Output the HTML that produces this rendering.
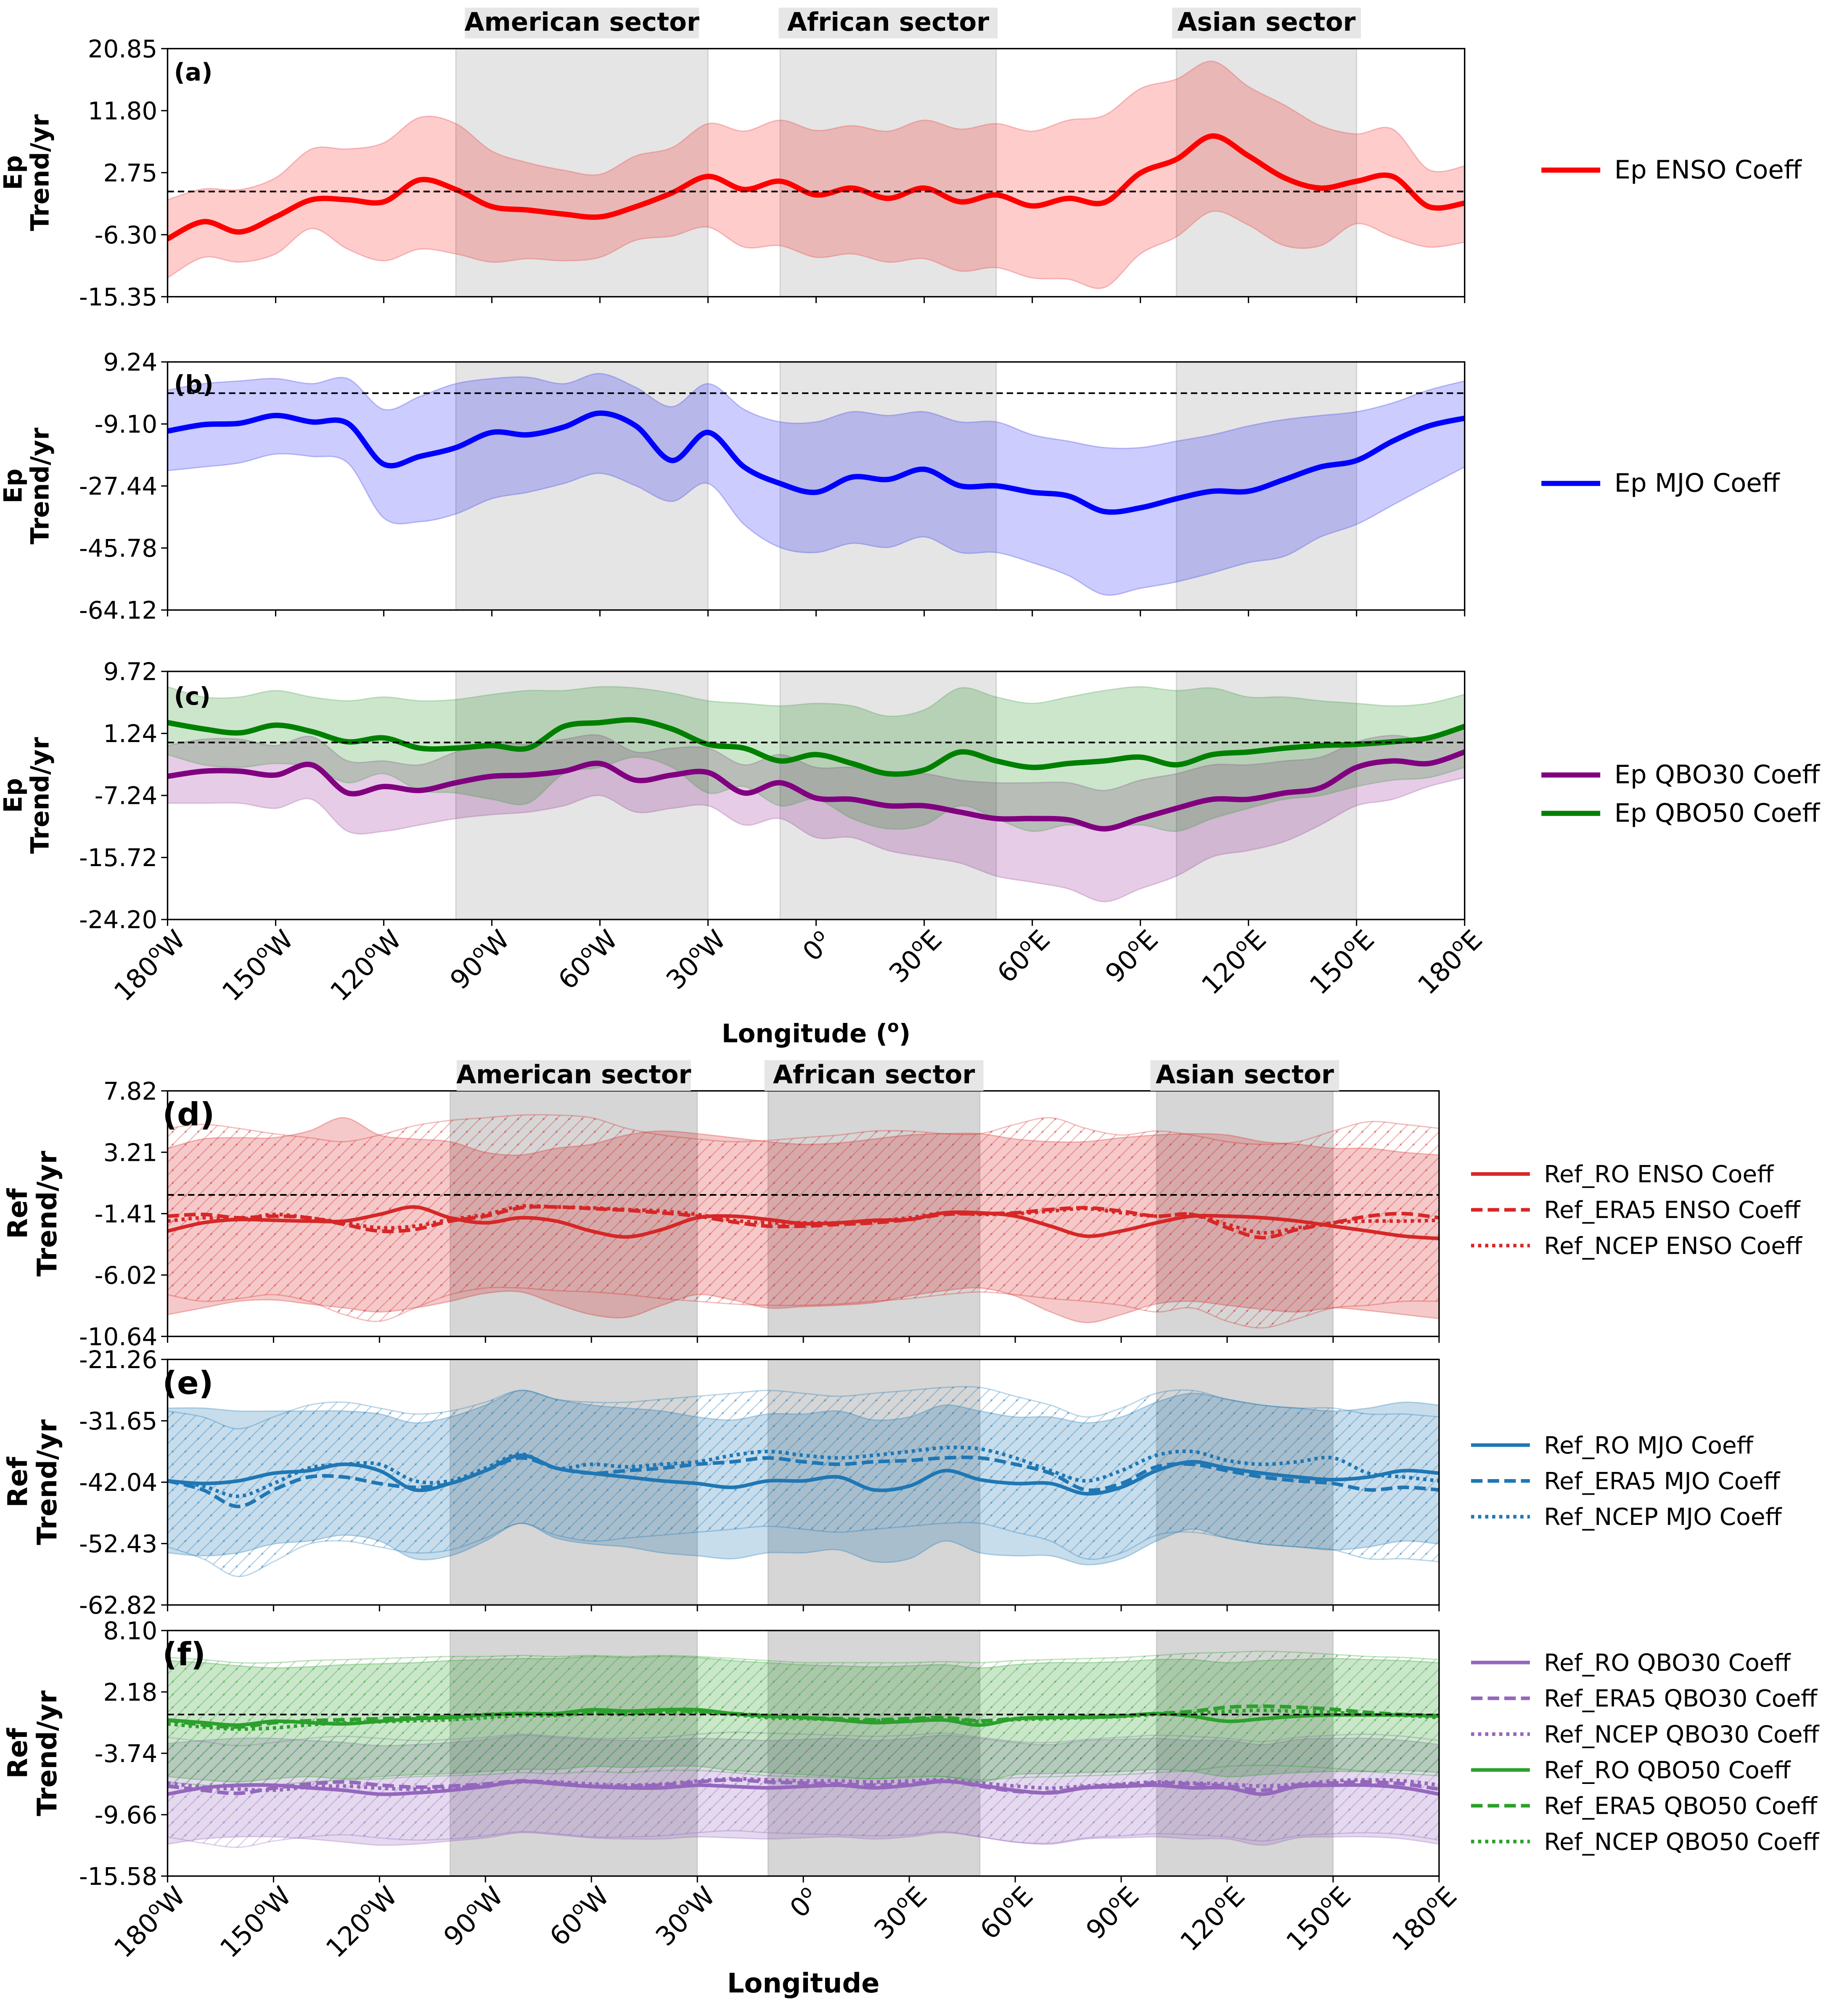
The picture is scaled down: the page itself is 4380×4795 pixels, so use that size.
<!DOCTYPE html>
<html><head><meta charset="utf-8"><style>
html,body{margin:0;padding:0;background:#fff;}
svg{display:block;font-family:"DejaVu Sans","Liberation Sans",sans-serif;}
</style></head>
<body>
<svg id="chart" width="4380" height="4795" viewBox="0 0 1440 1576.4" xmlns="http://www.w3.org/2000/svg">
<defs>
<pattern id="hatch-red" patternUnits="userSpaceOnUse" width="10" height="10"><path d="M0,10 L10,0 M-2,2 L2,-2 M8,12 L12,8" stroke="rgba(214,39,40,0.35)" stroke-width="0.8"/><circle cx="5" cy="5" r="0.8" fill="rgba(214,39,40,0.45)"/></pattern>
<pattern id="hatch-blue" patternUnits="userSpaceOnUse" width="10" height="10"><path d="M0,10 L10,0 M-2,2 L2,-2 M8,12 L12,8" stroke="rgba(31,119,180,0.35)" stroke-width="0.8"/><circle cx="5" cy="5" r="0.8" fill="rgba(31,119,180,0.45)"/></pattern>
<pattern id="hatch-purple" patternUnits="userSpaceOnUse" width="10" height="10"><path d="M0,10 L10,0 M-2,2 L2,-2 M8,12 L12,8" stroke="rgba(148,103,189,0.35)" stroke-width="0.8"/><circle cx="5" cy="5" r="0.8" fill="rgba(148,103,189,0.45)"/></pattern>
<pattern id="hatch-green" patternUnits="userSpaceOnUse" width="10" height="10"><path d="M0,10 L10,0 M-2,2 L2,-2 M8,12 L12,8" stroke="rgba(44,160,44,0.35)" stroke-width="0.8"/><circle cx="5" cy="5" r="0.8" fill="rgba(44,160,44,0.45)"/></pattern>
</defs>
</svg>
<script>
// ---------- data ----------
const lons = [-180,-170,-160,-150,-140,-130,-120,-110,-100,-90,-80,-70,-60,-50,-40,-30,-20,-10,0,10,20,30,40,50,60,70,80,90,100,110,120,130,140,150,160,170,180];
const xTicks = [-180,-150,-120,-90,-60,-30,0,30,60,90,120,150,180];
const xTickNums = ["180","150","120","90","60","30","0","30","60","90","120","150","180"];
const xTickHem = ["W","W","W","W","W","W","","E","E","E","E","E","E"];
const sectorNames = ["American sector","African sector","Asian sector"];
const sectorStart = [-100,-10,100];
const sectorEnd = [-30,50,150];

const aTicks = ["20.85","11.80","2.75","-6.30","-15.35"];
const aMean = [-6.9,-4.4,-5.9,-3.7,-1.2,-1.2,-1.5,1.7,0.3,-2.2,-2.7,-3.3,-3.7,-2.2,-0.2,2.2,0.3,1.5,-0.5,0.5,-1.0,0.5,-1.5,-0.5,-2.1,-1.0,-1.6,2.7,4.7,8.1,5.2,2.0,0.5,1.5,2.2,-2.2,-1.7];
const aUpper = [-1.2,0.37,0.26,2.0,6.2,6.2,7.1,10.8,9.9,5.9,4.2,3.1,2.5,5.2,6.4,9.9,8.8,10.4,8.9,9.6,8.8,10.4,9.1,9.9,8.8,10.4,11.1,15.0,16.4,19.0,15.3,12.6,9.6,8.4,9.1,3.2,3.7];
const aLower = [-12.6,-9.6,-10.3,-9.1,-5.4,-8.4,-10.1,-8.4,-9.1,-10.3,-9.8,-10.1,-9.6,-7.1,-6.5,-5.2,-8.1,-7.9,-9.6,-9.1,-10.3,-9.8,-11.6,-11.1,-12.6,-12.8,-14.0,-9.1,-6.6,-2.9,-4.9,-7.9,-7.9,-4.7,-6.6,-8.1,-7.4];

const bTicks = ["9.24","-9.10","-27.44","-45.78","-64.12"];
const bMean = [-11.2,-9.3,-8.9,-6.6,-8.5,-8.9,-21.0,-18.7,-16.1,-11.6,-12.3,-10.0,-5.9,-9.7,-19.9,-11.6,-21.8,-26.7,-29.3,-24.8,-25.5,-22.5,-27.4,-27.4,-29.3,-30.4,-35.0,-33.9,-31.2,-29.0,-29.0,-25.5,-21.8,-19.9,-14.2,-9.7,-7.4];
const bUpper = [0.9,2.8,3.6,4.3,2.8,4.3,-4.8,-1.0,2.8,4.3,4.7,2.8,5.8,1.7,-4.0,2.8,-4.8,-8.5,-8.5,-5.5,-6.6,-5.5,-8.5,-8.5,-12.3,-14.2,-16.1,-16.1,-14.2,-12.3,-9.7,-7.8,-6.6,-5.5,-2.9,0.9,3.6];
const bLower = [-22.9,-21.8,-20.6,-18.0,-18.7,-20.6,-36.9,-38.0,-35.7,-31.2,-29.3,-26.7,-23.7,-27.4,-32.0,-26.7,-38.8,-45.6,-47.1,-44.4,-45.6,-42.5,-47.1,-47.1,-50.1,-53.9,-59.6,-57.7,-55.8,-53.1,-50.1,-48.2,-42.5,-38.8,-33.1,-27.4,-21.8];

const cTicks = ["9.72","1.24","-7.24","-15.72","-24.20"];
const cGreenMean = [2.72,1.85,1.32,2.37,1.5,0.1,0.63,-0.77,-0.77,-0.42,-0.77,2.2,2.72,3.07,1.85,-0.25,-0.77,-2.52,-1.65,-2.87,-4.27,-3.75,-1.3,-2.52,-3.4,-2.87,-2.52,-2.0,-3.05,-1.65,-1.3,-0.77,-0.42,-0.25,0.1,0.63,2.2];
const cGreenUpper = [7.62,6.22,6.22,7.1,6.22,5.7,6.22,5.7,5.87,6.57,7.1,7.1,7.62,7.45,6.75,5.7,5.35,5.0,5.35,5.0,3.6,4.47,7.45,6.22,5.35,6.22,7.1,7.62,7.1,7.45,6.22,6.22,5.7,5.35,5.0,5.35,6.57];
const cGreenLower = [-1.65,-3.05,-3.4,-2.87,-3.4,-5.5,-4.27,-6.55,-6.9,-7.77,-8.3,-4.27,-3.4,-2.0,-3.4,-6.9,-6.02,-8.65,-7.77,-10.4,-11.8,-11.27,-8.65,-10.4,-12.14,-11.27,-11.8,-11.27,-12.14,-10.4,-9.0,-7.77,-7.25,-6.02,-5.15,-4.8,-3.4];
const cPurpleMean = [-4.62,-3.92,-3.92,-4.45,-3.05,-6.9,-6.02,-6.55,-5.5,-4.62,-4.45,-3.92,-2.87,-5.15,-4.45,-4.1,-6.9,-5.5,-7.6,-7.77,-8.65,-8.65,-9.52,-10.4,-10.4,-10.57,-11.8,-10.4,-9.0,-7.77,-7.77,-6.9,-6.2,-3.4,-2.52,-2.87,-1.3];
const cPurpleUpper = [-0.42,0.45,0.45,-0.42,0.8,-2.52,-2.52,-3.05,-1.3,0.1,-0.25,0.45,0.97,-1.3,-0.77,-0.77,-3.05,-1.65,-3.4,-3.4,-4.27,-4.27,-5.15,-5.5,-5.5,-5.5,-6.55,-5.15,-4.27,-3.05,-3.05,-2.52,-2.0,0.1,0.97,0.45,2.55];
const cPurpleLower = [-8.3,-8.3,-8.3,-9.0,-7.77,-12.14,-12.14,-11.27,-10.4,-9.87,-9.52,-8.65,-7.25,-9.52,-9.0,-8.65,-11.27,-10.4,-13.0,-13.0,-14.77,-15.64,-16.5,-18.26,-19.1,-20.0,-21.76,-20.0,-18.26,-15.64,-14.77,-13.54,-11.27,-8.65,-7.77,-6.02,-4.8];

const dTicks = ["7.82","3.21","-1.41","-6.02","-10.64"];
const dRO = [-2.72,-2.1,-1.85,-1.91,-1.97,-1.97,-1.47,-0.91,-1.72,-2.1,-1.72,-1.97,-2.72,-3.16,-2.6,-1.72,-1.6,-1.85,-2.16,-2.1,-1.91,-1.85,-1.35,-1.35,-1.6,-2.35,-3.1,-2.72,-2.1,-1.6,-1.6,-1.72,-1.97,-2.35,-2.72,-3.1,-3.28];
const dERA5 = [-1.6,-1.47,-1.72,-1.6,-1.72,-2.22,-2.72,-2.6,-1.97,-1.6,-0.97,-0.91,-1.03,-1.16,-1.35,-1.6,-2.03,-2.35,-2.35,-2.22,-2.1,-1.85,-1.47,-1.41,-1.35,-1.1,-0.97,-1.22,-1.6,-1.47,-2.47,-3.22,-2.6,-2.1,-1.6,-1.41,-1.72];
const dNCEP = [-1.97,-1.72,-1.85,-1.47,-1.72,-2.1,-2.47,-2.35,-1.85,-1.47,-0.85,-0.91,-0.97,-1.1,-1.22,-1.47,-1.91,-2.1,-2.1,-2.1,-1.97,-1.72,-1.35,-1.47,-1.41,-1.22,-1.03,-1.35,-1.6,-1.47,-2.22,-2.85,-2.47,-2.1,-1.97,-1.97,-1.91];
const dROUpper = [3.5,4.2,4.3,4.3,4.8,5.8,4.5,4.2,4.0,3.2,3.0,3.5,3.8,4.5,4.8,4.6,4.3,4.0,3.8,3.9,4.2,4.5,4.6,4.6,4.2,4.0,4.0,4.3,4.5,4.6,4.5,4.0,3.8,3.5,3.5,3.2,3.0];
const dROLower = [-9.0,-8.5,-8.0,-7.9,-8.2,-8.5,-8.8,-8.5,-8.0,-7.4,-7.3,-8.2,-9.0,-9.2,-8.3,-7.5,-7.9,-8.5,-8.4,-8.3,-8.1,-7.6,-7.2,-7.0,-7.6,-8.8,-9.6,-9.0,-8.2,-8.0,-8.3,-8.6,-8.8,-8.5,-8.7,-9.0,-9.3];
const dHatchUpper = [5.0,5.3,5.0,4.6,4.3,4.0,4.5,5.2,5.6,5.8,6.0,6.0,5.8,5.0,4.5,4.2,4.0,4.1,4.3,4.5,4.8,4.8,4.6,4.6,5.3,5.8,5.0,4.5,4.8,4.5,4.0,3.8,4.0,4.8,5.5,5.3,5.0];
const dHatchLower = [-7.5,-8.0,-7.8,-7.5,-8.0,-9.0,-9.5,-8.5,-7.5,-7.0,-7.0,-7.2,-7.3,-7.5,-7.8,-8.0,-8.2,-8.3,-8.3,-8.2,-8.0,-7.8,-7.5,-7.3,-7.5,-7.8,-8.0,-8.3,-8.8,-8.5,-9.5,-10.0,-9.3,-8.5,-8.3,-8.0,-8.0];

const eTicks = ["-21.26","-31.65","-42.04","-52.43","-62.82"];
const eRO = [-41.82,-42.26,-41.82,-40.52,-40.09,-39.01,-40.09,-43.34,-42.26,-40.09,-37.49,-39.66,-40.52,-41.17,-41.82,-42.26,-42.91,-41.82,-41.82,-41.17,-43.34,-42.69,-40.09,-41.61,-42.26,-42.26,-43.99,-42.91,-40.09,-38.58,-39.66,-40.52,-41.17,-41.61,-41.17,-40.09,-40.52];
const eERA5 = [-41.82,-43.34,-46.15,-43.34,-41.17,-41.17,-42.26,-42.91,-42.26,-40.09,-37.93,-39.66,-40.52,-40.09,-39.66,-39.01,-38.58,-37.93,-38.58,-39.01,-38.58,-38.36,-37.93,-37.93,-39.01,-40.52,-43.34,-42.26,-39.44,-39.01,-40.09,-41.17,-41.82,-42.26,-43.34,-42.91,-43.34];
const eNCEP = [-41.82,-42.69,-44.42,-42.26,-39.66,-39.01,-39.01,-41.82,-41.82,-39.66,-37.28,-39.66,-39.01,-39.44,-39.01,-38.58,-37.49,-36.84,-37.49,-37.93,-37.49,-36.84,-36.19,-36.41,-37.93,-40.09,-41.82,-40.09,-37.49,-36.84,-38.36,-39.01,-38.58,-37.93,-40.52,-41.17,-41.82];
const eROUpper = [-29.5,-29.5,-30,-30,-30,-30,-30.5,-32,-31,-29,-26.5,-28,-29,-29.5,-30,-31,-31.5,-30.5,-30.5,-30,-31.5,-31,-29,-30,-31,-31,-32,-31,-28.5,-27,-28,-29,-29.5,-30,-29.5,-28.5,-29];
const eROLower = [-54,-54.5,-54,-52.5,-52,-51,-52,-55,-54.5,-52,-49,-51.5,-52.5,-53,-54,-54.5,-55,-54,-54,-53.5,-55.5,-55,-52,-54,-54.5,-54.5,-56,-55,-52,-50,-51.5,-52.5,-53,-53.5,-53,-52,-52.5];
const eHatchUpper = [-30,-31,-33,-31,-29,-28.5,-29.5,-30.5,-30,-28.5,-26.5,-28,-28.5,-28.5,-28,-27.5,-27,-26.5,-27,-27.5,-27,-26.5,-26,-26,-27.5,-29,-31,-29.5,-27,-26.5,-28,-29,-29.5,-29.5,-30.5,-30.5,-31];
const eHatchLower = [-53,-55,-58,-55.5,-52.5,-52,-53,-54,-53.5,-51.5,-49,-51,-52,-51.5,-51,-50.5,-50,-49.5,-50,-50.5,-50,-49.5,-49,-49,-50.5,-52,-55,-54,-51,-50.5,-51.5,-52.5,-53,-53.5,-55,-55,-55.5];

const fTicks = ["8.10","2.18","-3.74","-9.66","-15.58"];
const fGreenRO = [-0.53,-0.78,-1.02,-0.65,-0.78,-0.9,-0.65,-0.41,-0.28,-0.04,0.09,0.09,0.46,0.33,0.46,0.46,0.09,-0.16,-0.28,-0.53,-0.78,-0.65,-0.53,-1.02,-0.41,-0.28,-0.28,-0.16,0.09,-0.16,-0.65,-0.41,-0.16,-0.04,-0.04,-0.04,-0.16];
const fGreenERA5 = [-0.53,-1.0,-1.2,-0.8,-0.6,-0.5,-0.4,-0.3,-0.2,0.0,0.1,0.0,0.2,0.1,0.3,0.3,0.1,-0.1,-0.3,-0.4,-0.5,-0.4,-0.3,-0.6,-0.4,-0.3,-0.2,-0.1,0.1,0.3,0.7,0.8,0.7,0.5,0.2,0.0,-0.1];
const fGreenNCEP = [-0.9,-1.2,-1.4,-1.3,-1.0,-0.8,-0.7,-0.6,-0.5,-0.3,-0.1,-0.1,0.1,0.0,0.2,0.2,0.0,-0.3,-0.4,-0.5,-0.6,-0.5,-0.4,-0.7,-0.5,-0.4,-0.3,-0.2,0.0,0.1,0.3,0.4,0.3,0.2,0.0,-0.1,-0.3];
const fGreenUpper = [5.2,5.0,4.7,4.5,4.6,4.8,4.9,5.0,5.2,5.3,5.4,5.4,5.6,5.5,5.6,5.5,5.2,5.0,4.8,4.7,4.6,4.7,4.8,4.5,4.8,5.0,5.0,5.1,5.3,5.3,5.0,5.2,5.3,5.4,5.3,5.2,5.0];
const fGreenLower = [-6.0,-6.3,-6.5,-6.2,-6.0,-6.2,-6.0,-5.8,-5.7,-5.5,-5.3,-5.3,-5.0,-5.1,-5.0,-5.0,-5.4,-5.6,-5.8,-6.0,-6.2,-6.0,-6.0,-6.5,-5.8,-5.7,-5.6,-5.5,-5.3,-5.5,-6.0,-5.8,-5.6,-5.5,-5.5,-5.4,-5.6];
const fGreenHatchUpper = [5.5,5.3,5.0,5.0,5.2,5.3,5.4,5.5,5.6,5.6,5.7,5.6,5.7,5.6,5.7,5.6,5.4,5.2,5.0,5.0,5.0,5.0,5.1,5.0,5.2,5.3,5.4,5.5,5.7,5.9,6.0,6.1,6.0,5.8,5.6,5.5,5.3];
const fGreenHatchLower = [-6.5,-6.8,-7.0,-6.8,-6.5,-6.3,-6.2,-6.0,-5.9,-5.8,-5.6,-5.7,-5.5,-5.6,-5.4,-5.4,-5.6,-5.9,-6.0,-6.1,-6.2,-6.1,-6.0,-6.3,-6.1,-6.0,-5.9,-5.8,-5.6,-5.4,-5.0,-4.9,-5.0,-5.2,-5.5,-5.7,-5.9];
const fPurpleRO = [-7.68,-7.07,-6.82,-6.82,-7.07,-7.31,-7.68,-7.56,-7.31,-6.94,-6.45,-6.7,-6.94,-7.07,-7.07,-6.82,-6.94,-7.07,-6.94,-6.82,-7.07,-6.82,-6.45,-6.82,-7.31,-7.56,-7.07,-6.94,-6.82,-7.07,-7.07,-7.68,-6.94,-6.82,-6.82,-7.07,-7.68];
const fPurpleERA5 = [-6.9,-7.3,-7.6,-7.1,-6.7,-6.5,-6.8,-7.0,-6.9,-6.7,-6.4,-6.6,-6.9,-6.9,-6.8,-6.5,-6.3,-6.5,-6.6,-6.7,-6.8,-6.7,-6.4,-6.9,-7.4,-7.5,-7.0,-6.8,-6.6,-6.7,-6.9,-7.3,-6.8,-6.6,-6.5,-6.7,-7.2];
const fPurpleNCEP = [-6.6,-7.0,-7.2,-7.3,-7.0,-6.9,-7.1,-7.2,-7.1,-6.8,-6.5,-6.5,-6.7,-6.8,-6.7,-6.4,-6.2,-6.3,-6.4,-6.4,-6.5,-6.4,-6.3,-6.6,-6.9,-7.1,-6.9,-6.7,-6.5,-6.6,-6.7,-6.9,-6.7,-6.4,-6.3,-6.4,-6.8];
const fPurpleUpper = [-2.8,-2.5,-2.3,-2.3,-2.5,-2.7,-3.0,-2.9,-2.7,-2.4,-2.0,-2.2,-2.4,-2.5,-2.5,-2.3,-2.4,-2.5,-2.4,-2.3,-2.5,-2.3,-2.0,-2.3,-2.7,-2.9,-2.5,-2.4,-2.3,-2.5,-2.5,-2.9,-2.4,-2.3,-2.3,-2.5,-2.9];
const fPurpleLower = [-12.5,-12.0,-11.8,-11.8,-12.0,-12.3,-12.6,-12.5,-12.2,-11.9,-11.4,-11.6,-11.9,-12.0,-12.0,-11.8,-11.9,-12.0,-11.9,-11.8,-12.0,-11.8,-11.4,-11.8,-12.3,-12.5,-12.0,-11.9,-11.8,-12.0,-12.0,-12.6,-11.9,-11.8,-11.8,-12.0,-12.5];
const fPurpleHatchUpper = [-2.2,-2.6,-3.0,-2.7,-2.3,-2.1,-2.3,-2.5,-2.4,-2.2,-1.9,-2.1,-2.3,-2.3,-2.2,-1.9,-1.7,-1.8,-1.9,-2.0,-2.1,-2.0,-1.8,-2.2,-2.6,-2.7,-2.4,-2.2,-2.0,-2.1,-2.3,-2.6,-2.2,-2.0,-1.9,-2.1,-2.5];
const fPurpleHatchLower = [-11.8,-12.4,-12.8,-12.2,-11.8,-11.6,-11.9,-12.1,-12.0,-11.7,-11.3,-11.5,-11.8,-11.8,-11.7,-11.4,-11.2,-11.4,-11.5,-11.6,-11.7,-11.6,-11.3,-11.8,-12.3,-12.4,-11.9,-11.7,-11.5,-11.6,-11.8,-12.2,-11.7,-11.5,-11.4,-11.6,-12.1];

// ---------- drawing ----------
const svg = document.getElementById('chart');
const NS = 'http://www.w3.org/2000/svg';
function mk(tag, attrs, parent){ const e=document.createElementNS(NS,tag); for(const k in attrs) e.setAttribute(k,attrs[k]); (parent||svg).appendChild(e); return e; }

function smoothPath(pts){
  let d='M'+pts[0][0].toFixed(2)+','+pts[0][1].toFixed(2);
  for(let i=0;i<pts.length-1;i++){
    const p0=pts[Math.max(0,i-1)],p1=pts[i],p2=pts[i+1],p3=pts[Math.min(pts.length-1,i+2)];
    const c1x=p1[0]+(p2[0]-p0[0])/6,c1y=p1[1]+(p2[1]-p0[1])/6;
    const c2x=p2[0]-(p3[0]-p1[0])/6,c2y=p2[1]-(p3[1]-p1[1])/6;
    d+=' C'+c1x.toFixed(2)+','+c1y.toFixed(2)+' '+c2x.toFixed(2)+','+c2y.toFixed(2)+' '+p2[0].toFixed(2)+','+p2[1].toFixed(2);
  }
  return d;
}

function makePanel(P){
  const xs = v => P.x0 + (v+180)/360*(P.x1-P.x0);
  const ys = v => P.y1 - (v-P.vmin)/(P.vmax-P.vmin)*(P.y1-P.y0);
  const g = mk('g',{});
  
  
  const cid='clip-'+P.name;
  const cp=mk('clipPath',{id:cid},g); mk('rect',{x:P.x0,y:P.y0,width:P.x1-P.x0,height:P.y1-P.y0},cp);
  const inner=mk('g',{'clip-path':'url(#'+cid+')'},g);
  for(let i=0;i<sectorStart.length;i++){
    const r=mk('rect',{x:xs(sectorStart[i]),y:P.y0,width:xs(sectorEnd[i])-xs(sectorStart[i]),height:P.y1-P.y0,fill:P.sectorFill,stroke:'rgba(128,128,128,0.25)','stroke-width':1},inner);
    
    
  }
  P.bands.forEach(b=>{
    const up=lons.map((l,i)=>[xs(l),ys(b.upper[i])]);
    const lo=lons.map((l,i)=>[xs(l),ys(b.lower[i])]).reverse();
    let d=smoothPath(up)+' L'+smoothPath(lo).slice(1)+' Z';
    const p=mk('path',{d:d,fill:b.fill,stroke:b.stroke||'none','stroke-width':1},inner);
    
    
  });
  P.lines.forEach(s=>{
    const pts=lons.map((l,i)=>[xs(l),ys(s.data[i])]);
    const attrs={d:smoothPath(pts),fill:'none',stroke:s.color,'stroke-width':s.w,'stroke-linecap':s.dash?'butt':'round'};
    if(s.dash) attrs['stroke-dasharray']=s.dash;
    const p=mk('path',attrs,inner);
    
    
  });
  const z=mk('line',{x1:P.x0,x2:P.x1,y1:ys(0),y2:ys(0),stroke:'#000','stroke-width':1.3,'stroke-dasharray':'5,3'},inner);
  
  
  const fr=mk('rect',{x:P.x0,y:P.y0,width:P.x1-P.x0,height:P.y1-P.y0,fill:'none',stroke:'#000','stroke-width':1.1},g);
  
  
  P.ticks.forEach((t,i)=>{
    const y=P.y0+i*(P.y1-P.y0)/(P.ticks.length-1);
    mk('line',{x1:P.x0-5,x2:P.x0,y1:y,y2:y,stroke:'#000','stroke-width':1},g);
    const tx=mk('text',{x:P.x0-8,y:y+6.8,'text-anchor':'end','font-size':19,fill:'#000'},g);
    tx.textContent=t;
    
    
  });
  xTicks.forEach((v,i)=>{
    mk('line',{x1:xs(v),x2:xs(v),y1:P.y1,y2:P.y1+5,stroke:'#000','stroke-width':1},g);
    if(P.xlabels){
      const ax=xs(v)+15, ay=P.y1+17;
      const t=mk('text',{x:ax,y:ay,'text-anchor':'end','font-size':20.5,transform:'rotate(-45 '+ax+' '+ay+')'},g);
      
      
      const a=mk('tspan',{},t); a.textContent=xTickNums[i];
      const b=mk('tspan',{'font-size':14,dy:-8},t); b.textContent='o';
      const c=mk('tspan',{dy:8},t); c.textContent=xTickHem[i]||'\u200a';
    }
  });
  const pl=mk('text',{x:P.x0+P.labOff[0],y:P.y0+P.labOff[1],'font-size':P.labSize,'font-weight':'bold'},g);
  pl.textContent=P.label;
  
  
  const yc=(P.y0+P.y1)/2;
  P.ytitle.forEach((s,i)=>{
    const x=P.ytx+i*P.ytdx;
    const t=mk('text',{x:x,y:yc,'text-anchor':'middle','font-size':P.ytSize,'font-weight':'bold',transform:'rotate(-90 '+x+' '+yc+')'},g);
    t.textContent=s;
    
    
  });
  P.legend.forEach(L=>{
    const lg=mk('g',{},g);
    
    
    const at={x1:P.lgx,x2:P.lgx+P.lgw,y1:L.y,y2:L.y,stroke:L.color,'stroke-width':L.w};
    if(L.dash) at['stroke-dasharray']=L.dash;
    mk('line',at,lg);
    const t=mk('text',{x:P.lgx+P.lgw+11,y:L.y+6.5,'font-size':P.lgSize},lg);
    t.textContent=L.text;
  });
  if(P.sectorTitles){
    sectorNames.forEach((n,i)=>{
      const cx=(xs(sectorStart[i])+xs(sectorEnd[i]))/2;
      const w=n.length*11.8+6;
      mk('rect',{x:cx-w/2,y:P.stY-18,width:w,height:24,fill:'#e6e6e6'},g);
      const t=mk('text',{x:cx,y:P.stY,'text-anchor':'middle','font-size':20,'font-weight':'bold'},g);
      t.textContent=n;
      
      
    });
  }
}

const topGeo={x0:131,x1:1145,sectorFill:'#e5e5e5',labOff:[5,25],labSize:19,ytx:17,ytdx:21,ytSize:19.5,lgx:1205,lgw:46,lgSize:20};
const botGeo={x0:131,x1:1125,sectorFill:'#d6d6d6',labOff:[-4,27],labSize:25,ytx:21,ytdx:23,ytSize:21,lgx:1150,lgw:46,lgSize:18.6};

makePanel(Object.assign({},topGeo,{name:'panel-a',y0:38,y1:232,vmin:-15.35,vmax:20.85,ticks:aTicks,label:'(a)',ytitle:['Ep','Trend/yr'],sectorTitles:true,stY:24,
  bands:[{name:'enso-band',upper:aUpper,lower:aLower,fill:'rgba(255,0,0,0.2)',stroke:'rgba(230,100,100,0.4)'}],
  lines:[{name:'enso-line',data:aMean,color:'#ff0000',w:4.2}],
  legend:[{y:133,color:'#ff0000',w:4,text:'Ep ENSO Coeff'}]}));

makePanel(Object.assign({},topGeo,{name:'panel-b',y0:283,y1:477,vmin:-64.12,vmax:9.24,ticks:bTicks,label:'(b)',ytitle:['Ep','Trend/yr'],labOff:[5,24],
  bands:[{name:'mjo-band',upper:bUpper,lower:bLower,fill:'rgba(0,0,255,0.2)',stroke:'rgba(100,100,230,0.4)'}],
  lines:[{name:'mjo-line',data:bMean,color:'#0000ff',w:4.2}],
  legend:[{y:378,color:'#0000ff',w:4,text:'Ep MJO Coeff'}]}));

makePanel(Object.assign({},topGeo,{name:'panel-c',y0:525,y1:719,vmin:-24.2,vmax:9.72,ticks:cTicks,label:'(c)',ytitle:['Ep','Trend/yr'],xlabels:true,labOff:[5,26],
  bands:[{name:'qbo30-band',upper:cPurpleUpper,lower:cPurpleLower,fill:'rgba(128,0,128,0.2)',stroke:'rgba(160,90,160,0.3)'},
         {name:'qbo50-band',upper:cGreenUpper,lower:cGreenLower,fill:'rgba(0,128,0,0.2)',stroke:'rgba(80,160,80,0.3)'}],
  lines:[{name:'qbo30-line',data:cPurpleMean,color:'#800080',w:4.2},{name:'qbo50-line',data:cGreenMean,color:'#008000',w:4.2}],
  legend:[{y:606,color:'#800080',w:4,text:'Ep QBO30 Coeff'},{y:636,color:'#008000',w:4,text:'Ep QBO50 Coeff'}]}));

makePanel(Object.assign({},botGeo,{name:'panel-d',y0:853,y1:1045,vmin:-10.64,vmax:7.82,ticks:dTicks,label:'(d)',ytitle:['Ref','Trend/yr'],sectorTitles:true,stY:847,
  bands:[{name:'ro-enso-band',upper:dROUpper,lower:dROLower,fill:'rgba(214,39,40,0.25)',stroke:'rgba(214,39,40,0.3)'},
         {name:'reanalysis-enso-band',upper:dHatchUpper,lower:dHatchLower,fill:'url(#hatch-red)',stroke:'rgba(214,39,40,0.3)'}],
  lines:[{name:'ro-enso',data:dRO,color:'#d62728',w:2.8},{name:'era5-enso',data:dERA5,color:'#d62728',w:2.8,dash:'9,4'},{name:'ncep-enso',data:dNCEP,color:'#d62728',w:2.8,dash:'2.5,3'}],
  legend:[{y:918,color:'#d62728',w:2.8,text:'Ref_RO ENSO Coeff'},{y:946,color:'#d62728',w:2.8,dash:'9,4',text:'Ref_ERA5 ENSO Coeff'},{y:974,color:'#d62728',w:2.8,dash:'2.5,3',text:'Ref_NCEP ENSO Coeff'}]}));

makePanel(Object.assign({},botGeo,{name:'panel-e',y0:1063,y1:1255,vmin:-62.82,vmax:-21.26,ticks:eTicks,label:'(e)',ytitle:['Ref','Trend/yr'],
  bands:[{name:'ro-mjo-band',upper:eROUpper,lower:eROLower,fill:'rgba(31,119,180,0.25)',stroke:'rgba(31,119,180,0.3)'},
         {name:'reanalysis-mjo-band',upper:eHatchUpper,lower:eHatchLower,fill:'url(#hatch-blue)',stroke:'rgba(31,119,180,0.3)'}],
  lines:[{name:'ro-mjo',data:eRO,color:'#1f77b4',w:2.8},{name:'era5-mjo',data:eERA5,color:'#1f77b4',w:2.8,dash:'9,4'},{name:'ncep-mjo',data:eNCEP,color:'#1f77b4',w:2.8,dash:'2.5,3'}],
  legend:[{y:1130,color:'#1f77b4',w:2.8,text:'Ref_RO MJO Coeff'},{y:1158,color:'#1f77b4',w:2.8,dash:'9,4',text:'Ref_ERA5 MJO Coeff'},{y:1186,color:'#1f77b4',w:2.8,dash:'2.5,3',text:'Ref_NCEP MJO Coeff'}]}));

makePanel(Object.assign({},botGeo,{name:'panel-f',y0:1275,y1:1467,vmin:-15.58,vmax:8.10,ticks:fTicks,label:'(f)',ytitle:['Ref','Trend/yr'],xlabels:true,
  bands:[{name:'ro-qbo30-band',upper:fPurpleUpper,lower:fPurpleLower,fill:'rgba(148,103,189,0.25)',stroke:'rgba(148,103,189,0.3)'},
         {name:'reanalysis-qbo30-band',upper:fPurpleHatchUpper,lower:fPurpleHatchLower,fill:'url(#hatch-purple)',stroke:'rgba(148,103,189,0.3)'},
         {name:'ro-qbo50-band',upper:fGreenUpper,lower:fGreenLower,fill:'rgba(44,160,44,0.25)',stroke:'rgba(44,160,44,0.3)'},
         {name:'reanalysis-qbo50-band',upper:fGreenHatchUpper,lower:fGreenHatchLower,fill:'url(#hatch-green)',stroke:'rgba(44,160,44,0.3)'}],
  lines:[{name:'ro-qbo30',data:fPurpleRO,color:'#9467bd',w:2.8},{name:'era5-qbo30',data:fPurpleERA5,color:'#9467bd',w:2.8,dash:'9,4'},{name:'ncep-qbo30',data:fPurpleNCEP,color:'#9467bd',w:2.8,dash:'2.5,3'},
         {name:'ro-qbo50',data:fGreenRO,color:'#2ca02c',w:2.8},{name:'era5-qbo50',data:fGreenERA5,color:'#2ca02c',w:2.8,dash:'9,4'},{name:'ncep-qbo50',data:fGreenNCEP,color:'#2ca02c',w:2.8,dash:'2.5,3'}],
  legend:[{y:1300,color:'#9467bd',w:2.8,text:'Ref_RO QBO30 Coeff'},{y:1328,color:'#9467bd',w:2.8,dash:'9,4',text:'Ref_ERA5 QBO30 Coeff'},{y:1356,color:'#9467bd',w:2.8,dash:'2.5,3',text:'Ref_NCEP QBO30 Coeff'},
          {y:1384,color:'#2ca02c',w:2.8,text:'Ref_RO QBO50 Coeff'},{y:1412,color:'#2ca02c',w:2.8,dash:'9,4',text:'Ref_ERA5 QBO50 Coeff'},{y:1440,color:'#2ca02c',w:2.8,dash:'2.5,3',text:'Ref_NCEP QBO50 Coeff'}]}));

const xt1=mk('text',{x:638,y:815,'text-anchor':'middle','font-size':20,'font-weight':'bold'});


xt1.innerHTML='Longitude (<tspan font-size="13" dy="-8">o</tspan><tspan dy="8">)</tspan>';
const xt2=mk('text',{x:628,y:1558,'text-anchor':'middle','font-size':21,'font-weight':'bold'});


xt2.textContent='Longitude';
</script>
</body></html>
